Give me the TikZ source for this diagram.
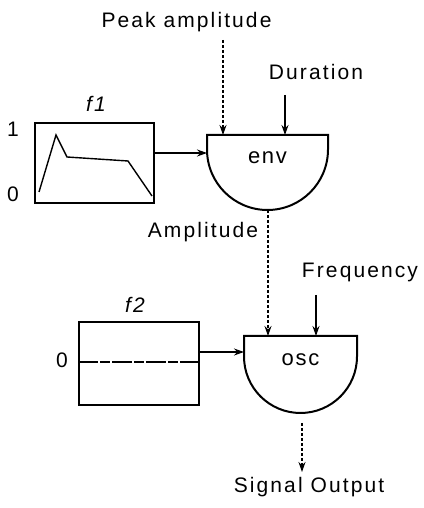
\documentclass[tikz,border=0pt]{standalone}
\usepackage{fontspec}
\setmainfont{Liberation Sans}
\newfontfamily\lab[LetterSpace=10]{Liberation Sans}
\newfontfamily\inlab[LetterSpace=8]{Liberation Sans}
\usetikzlibrary{arrows.meta}
\begin{document}
\begin{tikzpicture}[x=1pt,y=1pt,
  txt/.style={font=\lab\fontsize{21}{24}\selectfont, inner sep=0pt, anchor=base},
  inner/.style={font=\inlab\fontsize{22}{24}\selectfont, inner sep=0pt},
  tab/.style={draw, line width=2pt, inner sep=0pt},
  unit/.style={draw, line width=2pt},
  conn/.style={line width=1.1pt, -{Stealth[length=10pt,width=7pt]}},
  dconn/.style={conn, densely dashed},
  axnum/.style={font=\fontsize{21}{24}\selectfont, inner sep=0pt}]
\useasboundingbox (0,0) rectangle (423,508);
% texts
\node[txt] (peak) at (186.5,480) {Peak amplitude};
\node[txt] (dur) at (316,428) {Duration};
\node[txt] (amp) at (203,270) {Amplitude};
\node[txt] (freq) at (360,230) {Frequency};
\node[txt] (sig) at (309,16) {Signal Output};
% f1 table
\node[tab, minimum width=119pt, minimum height=80pt] (f1) at (94.5,345) {};
\node[txt, font=\lab\itshape\fontsize{21}{24}\selectfont] (f1lab) at (96,396) {f1};
\node[axnum] (one) at (13,379) {1};
\node[axnum] (zero) at (13,314) {0};
\draw[line width=1.4pt] (39,316) -- (56,373) -- (67,351) -- (128,347) -- (152,312);
% f2 table
\node[tab, minimum width=120pt, minimum height=83pt] (f2) at (139,144.5) {};
\node[txt, font=\lab\itshape\fontsize{21}{24}\selectfont] (f2lab) at (135,195) {f2};
\node[axnum] (zero2) at (62,148) {0};
\draw[line width=1.1pt, dash pattern=on 20pt off 2pt on 10pt off 2pt] (f2.west |- 0,146) -- (f2.east |- 0,146);
% env unit
\draw[unit] (207,373) -- (328,373) -- (328,358.5) arc[start angle=0,end angle=-180,radius=60.5] -- cycle;
\node[inner] (env) at (267.5,350) {env};
\coordinate (envin) at (207,355);
\coordinate (envpk) at (223,373);
\coordinate (envdur) at (285,373);
\coordinate (envout) at (268,298);
\coordinate (pkstart) at (223,468);
\coordinate (durstart) at (285,413);
% osc unit
\draw[unit] (244,172) -- (357,172) -- (357,151.5) arc[start angle=0,end angle=-180,radius=56.5] -- cycle;
\node[inner] (osc) at (300.5,148) {osc};
\coordinate (oscin) at (244,156);
\coordinate (oscamp) at (268,172);
\coordinate (oscfreq) at (316,172);
\coordinate (oscout) at (302,85);
\coordinate (sigtip) at (302,36);
\coordinate (freqstart) at (316,213);
% connectors
\draw[dconn] (pkstart) -- (envpk);
\draw[conn] (durstart) -- (envdur);
\draw[conn] (f1.east |- envin) -- (envin);
\draw[dconn] (envout) -- (oscamp);
\draw[conn] (freqstart) -- (oscfreq);
\draw[conn] (f2.east |- oscin) -- (oscin);
\draw[dconn, dash pattern=on 3pt off 2pt] (oscout) -- (sigtip);
\end{tikzpicture}
\end{document}
